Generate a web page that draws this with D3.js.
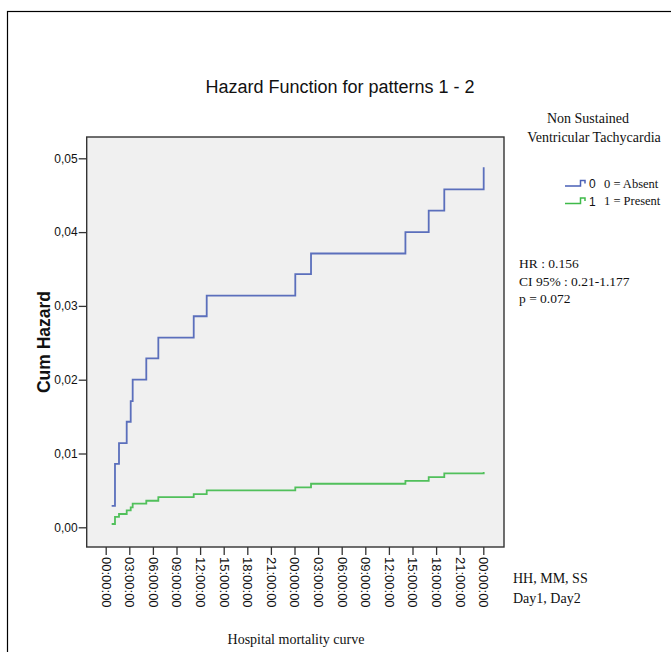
<!DOCTYPE html>
<html>
<head>
<meta charset="utf-8">
<script src="https://cdn.jsdelivr.net/npm/d3@7"></script>
<style>
  body { margin:0; background:#fff; }
  svg text { fill:#111; }
</style>
</head>
<body>
<div id="chart"></div>
<script>
// time since admission in hours, where each step happens
var hours = [0.76, 1.18, 1.69, 2.67, 3.18, 3.43, 5.16, 6.69, 11.19, 12.84, 24.1, 26.1, 38.1, 41.06, 43.04, 48.05];
// cum hazard, group 0 = Absent
var absent = [0.0029, 0.0086, 0.0114, 0.0143, 0.0171, 0.0200, 0.0229, 0.0257, 0.0286, 0.0314, 0.0343, 0.0371, 0.0400, 0.0429, 0.0458, 0.0488];
// cum hazard, group 1 = Present
var present = [0.00045, 0.0014, 0.0018, 0.0023, 0.0027, 0.0032, 0.0036, 0.0041, 0.0045, 0.0050, 0.0054, 0.0059, 0.0063, 0.0068, 0.0073, 0.0075];
var xTicks = [0, 3, 6, 9, 12, 15, 18, 21, 24, 27, 30, 33, 36, 39, 42, 45, 48];
var yTicks = [0, 0.01, 0.02, 0.03, 0.04, 0.05];
var groups = ["0", "1"];
var groupLabels = ["0 = Absent", "1 = Present"];
var colors = ["#4a60b6", "#3fba4a"];

var W = 671, H = 652;
var sans = "'Liberation Sans', Arial, sans-serif";
var serif = "'Liberation Serif', 'Times New Roman', serif";

var svg = d3.select("#chart").append("svg")
  .attr("width", W)
  .attr("height", H);

// outer frame
svg.append("rect")
  .attr("x", 7.5).attr("y", 11.5)
  .attr("width", 700).attr("height", 700)
  .attr("fill", "none")
  .attr("stroke", "#000")
  .attr("stroke-width", 1.2);

// plot box
var box = {left:86.7, top:137, right:504, bottom:547};

var x = d3.scaleLinear().domain([0, 48]).range([105.7, 483.3]);
var y = d3.scaleLinear().domain([0, 0.05]).range([527.3, 158.3]);

svg.append("rect")
  .attr("x", box.left).attr("y", box.top)
  .attr("width", box.right - box.left)
  .attr("height", box.bottom - box.top)
  .attr("fill", "#f0f0f0")
  .attr("stroke", "#333")
  .attr("stroke-width", 1.4);

// y axis
var yAxis = svg.append("g")
  .attr("transform", "translate(" + box.left + ",0)")
  .call(d3.axisLeft(y).tickValues(yTicks).tickSize(8).tickPadding(1)
    .tickFormat(function(d){ return d3.format(".2f")(d).replace(".", ","); }));
yAxis.select(".domain").remove();
yAxis.selectAll("line").attr("stroke", "#333").attr("stroke-width", 1.3);
yAxis.selectAll("text")
  .style("font-family", sans)
  .style("font-size", "12px")
  .attr("fill", "#222");

// x axis
var xAxis = svg.append("g")
  .attr("transform", "translate(0," + box.bottom + ")")
  .call(d3.axisBottom(x).tickValues(xTicks).tickSize(8)
    .tickFormat(function(d){ return d3.format("02")(d % 24) + ":00:00"; }));
xAxis.select(".domain").remove();
xAxis.selectAll("line").attr("stroke", "#333").attr("stroke-width", 1.3);
xAxis.selectAll("text")
  .attr("x", 10)
  .attr("y", 0)
  .attr("dy", "0.35em")
  .attr("transform", "rotate(90)")
  .style("text-anchor", "start")
  .style("font-family", sans)
  .style("font-size", "13px")
  .attr("fill", "#222");

// step lines
var line = d3.line()
  .curve(d3.curveStepAfter)
  .x(function(d){ return x(d[0]); })
  .y(function(d){ return y(d[1]); });

[absent, present].forEach(function(vals, i){
  var pts = hours.map(function(h, j){ return [h, vals[j]]; });
  svg.append("path")
    .attr("d", line(pts))
    .attr("fill", "none")
    .attr("stroke", colors[i])
    .attr("stroke-opacity", 0.9)
    .attr("stroke-width", 1.8);
});

// title
svg.append("text")
  .attr("x", 340).attr("y", 93)
  .attr("text-anchor", "middle")
  .style("font-family", sans)
  .style("font-size", "18px")
  .text("Hazard Function for patterns 1 - 2");

// y label
svg.append("text")
  .attr("transform", "translate(50,342) rotate(-90)")
  .attr("text-anchor", "middle")
  .style("font-family", sans)
  .style("font-size", "17.5px")
  .style("font-weight", "bold")
  .text("Cum Hazard");

// x label
svg.append("text")
  .attr("x", 296).attr("y", 644)
  .attr("text-anchor", "middle")
  .style("font-family", serif)
  .style("font-size", "14px")
  .text("Hospital mortality curve");

// legend
svg.append("text")
  .attr("x", 588).attr("y", 122.5)
  .attr("text-anchor", "middle")
  .style("font-family", serif)
  .style("font-size", "14px")
  .text("Non Sustained");
svg.append("text")
  .attr("x", 594).attr("y", 141.5)
  .attr("text-anchor", "middle")
  .style("font-family", serif)
  .style("font-size", "14px")
  .text("Ventricular Tachycardia");

var legRows = [186, 203.5];
groups.forEach(function(g, i){
  var base = legRows[i];
  var sample = [[565, base], [580.5, base], [580.5, base - 5.5], [585, base - 5.5], [585, base - 2.5]];
  svg.append("path")
    .attr("d", d3.line()(sample))
    .attr("fill", "none")
    .attr("stroke", colors[i])
    .attr("stroke-width", 1.5);
  svg.append("text")
    .attr("x", 589).attr("y", base + 2)
    .style("font-family", sans)
    .style("font-size", "12px")
    .text(g);
  svg.append("text")
    .attr("x", 604).attr("y", base + 1.5)
    .style("font-family", serif)
    .style("font-size", "12.5px")
    .text(groupLabels[i]);
});

// stats
var stats = ["HR : 0.156", "CI 95% : 0.21-1.177", "p = 0.072"];
stats.forEach(function(s, i){
  svg.append("text")
    .attr("x", 519).attr("y", 268 + i * 17.5)
    .style("font-family", serif)
    .style("font-size", "13.5px")
    .text(s);
});

// time unit note
["HH, MM, SS", "Day1, Day2"].forEach(function(s, i){
  svg.append("text")
    .attr("x", 513).attr("y", 583 + i * 20)
    .style("font-family", serif)
    .style("font-size", "14px")
    .text(s);
});
</script>
</body>
</html>
